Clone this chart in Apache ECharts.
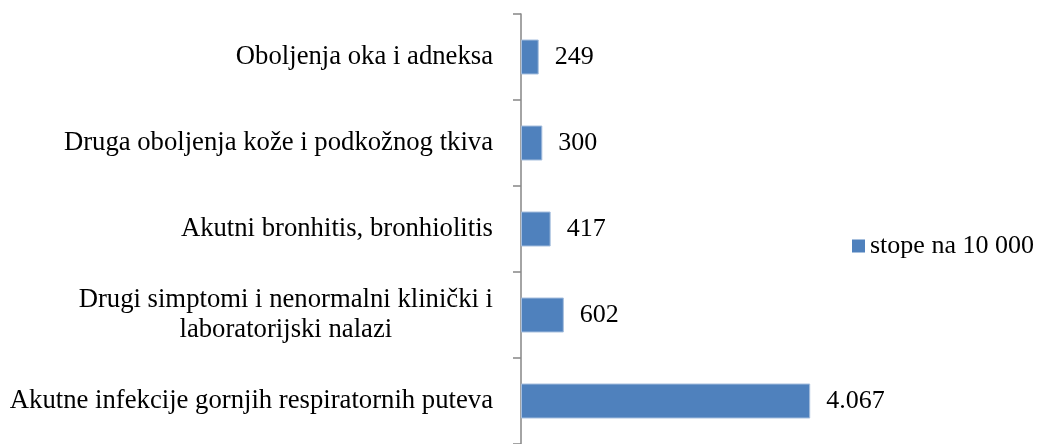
<!DOCTYPE html>
<html>
<head>
<meta charset="utf-8">
<script src="https://cdn.jsdelivr.net/npm/echarts@6/dist/echarts.min.js"></script>
<style>
  html, body { margin: 0; padding: 0; background: #fff; }
  #chart { width: 1041px; height: 444px; }
</style>
</head>
<body>
<div id="chart"></div>
<script>
// bottom to top, as the category axis draws them
var categories = [
    'Akutne infekcije gornjih respiratornih puteva',
    'Drugi simptomi i nenormalni klinički i\nlaboratorijski nalazi',
    'Akutni bronhitis, bronhiolitis',
    'Druga oboljenja kože i podkožnog tkiva',
    'Oboljenja oka i adneksa'
];
var values = [4067, 602, 417, 300, 249];
var seriesName = 'stope na 10 000';

function formatNum(num) {
    var reg = /\d{1,3}(?=(\d{3})+$)/g;
    return (num + '').replace(reg, '$&.');
}

var font = 'Liberation Serif, Times New Roman, serif';
var myChart = echarts.init(document.getElementById('chart'));

myChart.setOption({
    animation: false,
    legend: {
        data: [seriesName],
        left: 852,
        top: 233,
        padding: 0,
        icon: 'rect',
        itemWidth: 13,
        itemHeight: 13,
        itemStyle: { borderWidth: 0 },
        textStyle: { fontFamily: font, fontSize: 26, color: '#000' }
    },
    grid: {
        left: 521,
        right: 200,
        top: 14,
        bottom: -3
    },
    xAxis: {
        type: 'value',
        min: 0,
        max: 4500,
        show: false
    },
    yAxis: {
        type: 'category',
        data: categories,
        axisLine: { show: true, lineStyle: { color: '#868686', width: 1.5 } },
        axisTick: { show: true, length: 8, lineStyle: { color: '#868686', width: 1.5 } },
        axisLabel: {
            margin: 28,
            fontFamily: font,
            fontSize: 26.7,
            color: '#000',
            lineHeight: 30,
            formatter: function (value) {
                return value.split('\n').map(function (s) { return '{c|' + s + '}'; }).join('\n');
            },
            rich: {
                c: { fontFamily: font, fontSize: 26.7, color: '#000', align: 'center', lineHeight: 30 }
            }
        }
    },
    series: [{
        name: seriesName,
        type: 'bar',
        data: values,
        barWidth: 35,
        itemStyle: { color: '#4f81bd', borderColor: '#a7bfde', borderWidth: 1 },
        label: {
            show: true,
            position: 'right',
            distance: 16,
            fontFamily: font,
            fontSize: 26,
            color: '#000',
            formatter: function (p) { return formatNum(p.data); }
        }
    }]
});
</script>
</body>
</html>
